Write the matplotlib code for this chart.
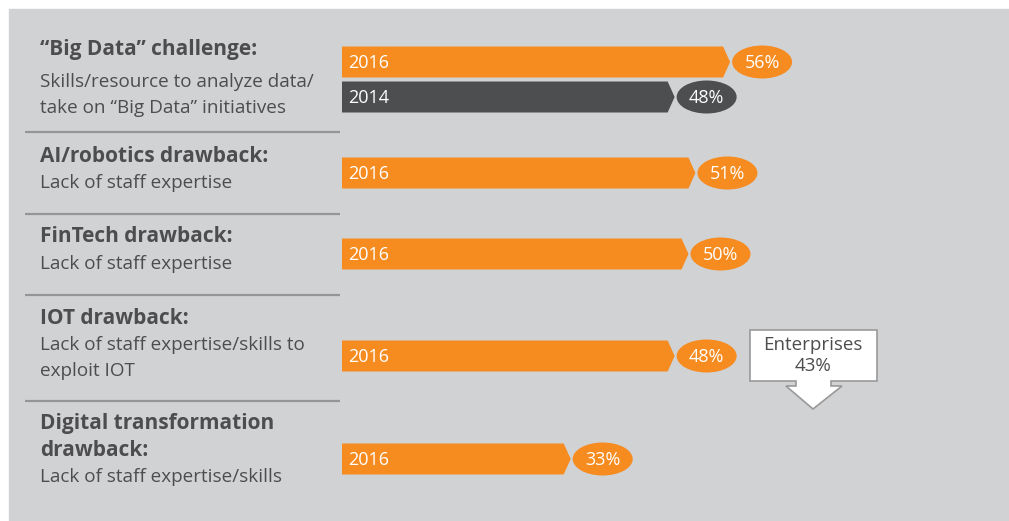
import matplotlib.pyplot as plt
from matplotlib.patches import Polygon, Ellipse, Rectangle

# Data
years = ["2016", "2014", "2016", "2016", "2016", "2016"]
values = [56, 48, 51, 50, 48, 33]
bar_y = [62, 97, 173, 254, 356, 459]  # vertical layout of bars (px)

titles = ["\u201cBig Data\u201d challenge:", "AI/robotics drawback:", "FinTech drawback:",
          "IOT drawback:", "Digital transformation\ndrawback:"]
subtitles = ["Skills/resource to analyze data/\ntake on \u201cBig Data\u201d initiatives",
             "Lack of staff expertise", "Lack of staff expertise",
             "Lack of staff expertise/skills to\nexploit IOT", "Lack of staff expertise/skills"]
title_y = [50, 157, 237, 318, 423]
sub_y = [82, 183, 264, 345, 477]

callout_label = "Enterprises"
callout_value = 43

ORANGE = "#F68B1F"
DARK = "#4D4E50"
TEXT = "#4D4D4F"
BG = "#D1D2D4"
FONT = "Open Sans"

W, H = 1009, 521
PX_PER_PCT = 6.93
X0 = 342

fig = plt.figure(figsize=(W / 100, H / 100), dpi=100)

# background axes in pixel coordinates
bg = fig.add_axes([0, 0, 1, 1])
bg.set_xlim(0, W)
bg.set_ylim(H, 0)
bg.axis("off")
bg.add_patch(Rectangle((9, 9), W - 9, H - 9, color=BG, zorder=0))

# left-hand labels, one text per line
for t, ty in zip(titles, title_y):
    for i, line in enumerate(t.split("\n")):
        bg.text(40, ty + i * 27, line, fontsize=15, fontweight="bold", family=FONT,
                color=TEXT, va="center", ha="left")
for s, sy in zip(subtitles, sub_y):
    lines = s.split("\n")
    for i, line in enumerate(lines):
        bg.text(40, sy + i * 26, line, fontsize=13.6, family=FONT, color=TEXT,
                va="center", ha="left")

for ly in [132, 214, 295, 401]:
    bg.plot([25, 340], [ly, ly], color="#939598", lw=1.6, solid_capstyle="butt")

# bar axes: x in percent
ax = fig.add_axes([0, 0, 1, 1], facecolor="none")
ax.set_xlim(-X0 / PX_PER_PCT, (W - X0) / PX_PER_PCT)
ax.set_ylim(H, 0)
ax.axis("off")

half = 15.5
tip = 7 / PX_PER_PCT
ew = 60 / PX_PER_PCT
for yr, v, y in zip(years, values, bar_y):
    col = DARK if yr == "2014" else ORANGE
    poly = [(0, y - half), (v - tip, y - half), (v, y), (v - tip, y + half), (0, y + half)]
    ax.add_patch(Polygon(poly, closed=True, color=col, lw=0))
    ax.text(6 / PX_PER_PCT, y + 1, yr, color="white", fontsize=13, family=FONT,
            va="center", ha="left")
    cx = v + 32 / PX_PER_PCT
    ax.add_patch(Ellipse((cx, y), ew, 33, color=col, lw=0))
    ax.text(cx, y + 1, f"{v}%", color="white", fontsize=13, family=FONT,
            va="center", ha="center")

# callout
cpts = [(750, 330), (877, 330), (877, 381), (831, 381), (831, 386), (842, 386), (813, 409),
        (786, 386), (796, 386), (796, 381), (750, 381)]
bg.add_patch(Polygon(cpts, closed=True, facecolor="white", edgecolor="#999999", lw=1.2))
bg.text(813, 345, callout_label, fontsize=13.5, family=FONT, color=TEXT, ha="center", va="center")
bg.text(813, 366, f"{callout_value}%", fontsize=13.5, family=FONT, color=TEXT, ha="center", va="center")

fig.savefig("out.png", dpi=100)
